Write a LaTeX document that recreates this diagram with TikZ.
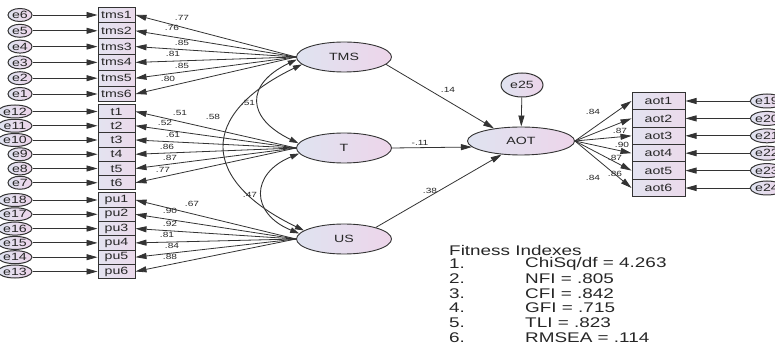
\documentclass[tikz,border=0pt]{standalone}
\usepackage{fontspec}
\setmainfont{Liberation Sans}
\newfontfamily\wf[FakeStretch=1.35]{Liberation Sans}
\usetikzlibrary{shapes.geometric,arrows.meta}
\definecolor{lineC}{HTML}{333333}
\definecolor{txtC}{HTML}{262626}
\definecolor{latL}{HTML}{DFE3F0}
\definecolor{latR}{HTML}{EDD5EA}
\definecolor{boxL}{HTML}{E3E3F0}
\definecolor{boxR}{HTML}{EBDAEB}
\begin{document}
\begin{tikzpicture}[x=1pt,y=-1pt,
  lat/.style={ellipse,draw=lineC,line width=0.9pt,minimum width=95pt,minimum height=30pt,inner sep=0pt,left color=latL,right color=latR,text=txtC,font=\wf\fontsize{10.5}{11}\selectfont},
  obs/.style={rectangle,draw=lineC,line width=1pt,minimum width=37pt,inner sep=0pt,left color=boxL,right color=boxR,text=txtC,font=\wf\fontsize{10.5}{11}\selectfont},
  aobs/.style={obs,minimum width=53pt,minimum height=17.4pt},
  err/.style={ellipse,draw=lineC,line width=1pt,minimum width=24pt,minimum height=13pt,inner sep=0pt,left color=latL,right color=latR,text=txtC,font=\wf\fontsize{10.5}{11}\selectfont},
  werr/.style={err,minimum width=34pt},
  arr/.style={draw=lineC,line width=0.8pt,-{Triangle[length=11pt,width=6pt]}},
  darr/.style={draw=lineC,line width=0.9pt,{Triangle[length=9pt,width=5.5pt]}-{Triangle[length=9pt,width=5.5pt]}},
  lbl/.style={inner sep=0pt,text=txtC,font=\wf\fontsize{7.5}{8}\selectfont},
  fit/.style={inner sep=0pt,anchor=west,text=txtC,font=\wf\fontsize{14}{15}\selectfont}
]
\useasboundingbox (0,0) rectangle (775,344);

% latent variables
\node[lat] (TMS) at (344,57) {TMS};
\node[lat] (T) at (344,148) {T};
\node[lat] (US) at (344,239) {US};
\node[lat,minimum width=107pt,minimum height=28pt] (AOT) at (521,141) {AOT};
\node[err,minimum width=42pt,minimum height=24pt] (e25) at (522,85) {e25};

% TMS indicators
\foreach \i/\e/\v/\lx/\ly in {1/6/.77/182/18,2/5/.76/172/28,3/4/.85/182/43,4/3/.81/173/54,5/2/.85/182/66,6/1/.80/168/79} {
  \node[obs,minimum height=15.8pt] (tms\i) at (116.5,{15+(\i-1)*15.8}) {tms\i};
  \node[err] (e\e) at (20,{15+(\i-1)*15.8}) {e\e};
  \draw[arr] (e\e) -- (tms\i);
  \draw[arr] (TMS.west) -- (tms\i.east);
  \node[lbl] (ltms\i) at (\lx,\ly) {\v};
}
% T indicators
\foreach \i/\e/\v/\lx/\ly/\st/\ex in {1/12/.51/180/113/werr/15,2/11/.52/165/123/werr/15,3/10/.61/173/135/werr/15,4/9/.86/167/147/err/20,5/8/.87/170/158/err/20,6/7/.77/163/170/err/20} {
  \node[obs,minimum height=14.25pt] (t\i) at (116.5,{111.5+(\i-1)*14.25}) {t\i};
  \node[\st] (e\e) at (\ex,{111.5+(\i-1)*14.25}) {e\e};
  \draw[arr] (e\e) -- (t\i);
  \draw[arr] (T.west) -- (t\i.east);
  \node[lbl] (lt\i) at (\lx,\ly) {\v};
}
% US indicators
\foreach \i/\e/\v/\lx/\ly in {1/18/.67/192/204,2/17/.90/170/211,3/16/.92/170/224,4/15/.81/167/235,5/14/.84/172/246,6/13/.88/170/257} {
  \node[obs,minimum height=14.3pt] (pu\i) at (116.5,{200+(\i-1)*14.3}) {pu\i};
  \node[werr] (e\e) at (15,{200+(\i-1)*14.3}) {e\e};
  \draw[arr] (e\e) -- (pu\i);
  \draw[arr] (US.west) -- (pu\i.east);
  \node[lbl] (lpu\i) at (\lx,\ly) {\v};
}
% AOT indicators
\foreach \i/\e/\v/\lx/\ly in {1/19/.84/593/112,2/20/.87/620/131,3/21/.90/622/145,4/22/.87/615/158,5/23/.86/615/174,6/24/.84/593/178} {
  \node[aobs] (aot\i) at (658.5,{101+(\i-1)*17.4}) {aot\i};
  \node[err,minimum width=32pt,minimum height=14pt] (e\e) at (767,{101+(\i-1)*17.4}) {e\e};
  \draw[arr] (e\e) -- (aot\i);
  \draw[arr] (AOT.east) -- (aot\i.west);
  \node[lbl] (laot\i) at (\lx,\ly) {\v};
}

% correlations
\draw[darr] (TMS.183) .. controls +(-52,25) and +(-52,-25) .. (T.174);
\draw[darr] (TMS.190) .. controls +(-104,50) and +(-104,-50) .. (US.168);
\draw[darr] (T.187) .. controls +(-49,20) and +(-49,-20) .. (US.173);
\node[lbl] (c51) at (248,103) {.51};
\node[lbl] (c58) at (213,117) {.58};
\node[lbl] (c47) at (250,195) {.47};

% structural paths
\draw[arr] (TMS.350) -- (AOT.155);
\draw[arr] (T.east) -- (AOT.187);
\draw[arr] (US.20) -- (AOT.215);
\draw[arr] (e25) -- (AOT);
\node[lbl] (s14) at (448,90) {.14};
\node[lbl] (s11) at (420,143) {-.11};
\node[lbl] (s38) at (430,191) {.38};

% fitness indexes
\node[fit] (fh) at (449,250) {Fitness Indexes};
\foreach \n/\t/\y in {1/{ChiSq/df = 4.263}/264,2/{NFI = .805}/279,3/{CFI = .842}/293.5,4/{GFI = .715}/308,5/{TLI = .823}/323,6/{RMSEA = .114}/338} {
  \node[fit] (fn\n) at (449,\y) {\n.};
  \node[fit] (fv\n) at (525,\y) {\t};
}
\end{tikzpicture}
\end{document}
